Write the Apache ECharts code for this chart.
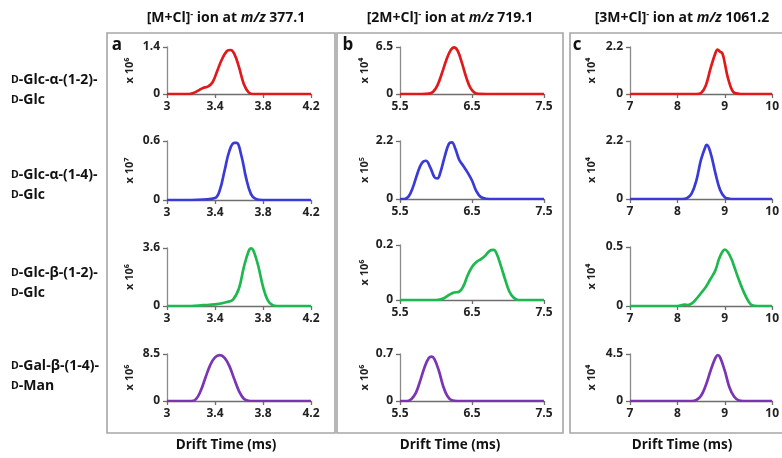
<!DOCTYPE html>
<html><head><meta charset="utf-8">
<script src="https://cdn.jsdelivr.net/npm/echarts@6/dist/echarts.min.js"></script>
<style>html,body{margin:0;padding:0;background:#fff}#c{width:782px;height:458px}</style>
</head><body><div id="c"></div>
<script>
// ---- Data (drift time ms, intensity in the panel's scaled units) ----
const ionNames = ['[M+Cl]', '[2M+Cl]', '[3M+Cl]'];
const mzValues = ['377.1', '719.1', '1061.2'];
const panelLetters = ['a', 'b', 'c'];
const rowLine1 = ['Glc-α-(1-2)-', 'Glc-α-(1-4)-', 'Glc-β-(1-2)-', 'Gal-β-(1-4)-'];
const rowLine2 = ['Glc', 'Glc', 'Glc', 'Man'];
const xTicksA = [3, 3.4, 3.8, 4.2];
const xTicksB = [5.5, 6.5, 7.5];
const xTicksC = [7, 8, 9, 10];
const yMaxA = [1.4, 0.6, 3.6, 8.5];
const yMaxB = [6.5, 2.2, 0.2, 0.7];
const yMaxC = [2.2, 2.2, 0.5, 4.5];
const expA = ['⁶', '⁷', '⁶', '⁶'];
const expB = ['⁴', '⁵', '⁶', '⁶'];
const expC = ['⁴', '⁴', '⁴', '⁴'];

const a1 = [[3,0],[3.1,0],[3.18,0],[3.22,0.03],[3.26,0.1],[3.3,0.18],[3.34,0.22],[3.38,0.35],[3.42,0.7],[3.46,1.05],[3.5,1.28],[3.53,1.31],[3.56,1.2],[3.6,0.8],[3.64,0.3],[3.68,0.05],[3.72,0],[3.8,0],[4.2,0]];
const a2 = [[3,0],[3.2,0],[3.3,0.005],[3.4,0.02],[3.44,0.1],[3.48,0.3],[3.52,0.5],[3.56,0.58],[3.58,0.58],[3.62,0.45],[3.66,0.22],[3.7,0.06],[3.74,0.01],[3.8,0],[4.2,0]];
const a3 = [[3,0],[3.2,0],[3.3,0.05],[3.4,0.1],[3.5,0.25],[3.55,0.4],[3.6,1.1],[3.64,2.4],[3.68,3.4],[3.7,3.58],[3.72,3.45],[3.76,2.5],[3.8,1.2],[3.84,0.35],[3.88,0.05],[3.92,0],[4.2,0]];
const a4 = [[3,0],[3.2,0],[3.24,0.3],[3.28,1.8],[3.32,4.2],[3.36,6.5],[3.4,7.9],[3.44,8.3],[3.48,7.8],[3.52,6.3],[3.56,4.0],[3.6,1.8],[3.64,0.4],[3.68,0.05],[3.72,0],[4.2,0]];
const b1 = [[5.5,0],[5.8,0],[5.9,0.05],[5.96,0.3],[6.02,1.2],[6.08,2.8],[6.14,4.6],[6.2,6.0],[6.25,6.45],[6.3,6.0],[6.36,4.3],[6.42,2.3],[6.48,0.8],[6.54,0.15],[6.6,0.02],[6.7,0],[7.5,0]];
const b2 = [[5.5,0],[5.56,0],[5.62,0.1],[5.68,0.45],[5.74,0.95],[5.8,1.35],[5.86,1.45],[5.92,1.2],[5.98,0.82],[6.02,0.78],[6.06,1.0],[6.12,1.6],[6.18,2.1],[6.22,2.15],[6.27,1.9],[6.32,1.5],[6.38,1.25],[6.44,1.0],[6.5,0.7],[6.56,0.3],[6.62,0.08],[6.7,0.01],[6.8,0],[7.5,0]];
const b3 = [[5.5,0],[6.0,0],[6.1,0.005],[6.18,0.018],[6.25,0.027],[6.32,0.03],[6.38,0.05],[6.44,0.09],[6.5,0.12],[6.56,0.138],[6.62,0.148],[6.68,0.16],[6.74,0.178],[6.8,0.182],[6.84,0.17],[6.9,0.125],[6.96,0.075],[7.02,0.03],[7.08,0.008],[7.14,0],[7.5,0]];
const b4 = [[5.5,0],[5.6,0],[5.66,0.03],[5.72,0.12],[5.78,0.3],[5.84,0.5],[5.9,0.64],[5.94,0.66],[5.98,0.62],[6.04,0.45],[6.1,0.22],[6.16,0.07],[6.22,0.01],[6.3,0],[7.5,0]];
const c1 = [[7,0],[8.4,0],[8.5,0.05],[8.6,0.4],[8.7,1.2],[8.8,1.9],[8.85,2.08],[8.9,1.98],[8.95,1.9],[9.0,1.45],[9.05,0.9],[9.1,0.5],[9.15,0.2],[9.2,0.06],[9.3,0.01],[9.4,0],[10,0]];
const c2 = [[7,0],[8.1,0],[8.2,0.03],[8.3,0.2],[8.4,0.7],[8.5,1.5],[8.6,2.02],[8.62,2.05],[8.7,1.75],[8.8,1.0],[8.9,0.35],[9.0,0.07],[9.1,0.01],[9.2,0],[10,0]];
const c3 = [[7,0],[8.0,0],[8.1,0.008],[8.16,0.012],[8.22,0.008],[8.3,0.02],[8.4,0.06],[8.5,0.11],[8.6,0.16],[8.7,0.23],[8.8,0.3],[8.88,0.4],[8.95,0.46],[9.0,0.477],[9.06,0.46],[9.14,0.4],[9.22,0.31],[9.3,0.22],[9.4,0.12],[9.5,0.04],[9.58,0.005],[9.7,0],[10,0]];
const c4 = [[7,0],[8.3,0],[8.4,0.1],[8.5,0.5],[8.6,1.5],[8.7,2.9],[8.8,4.1],[8.85,4.4],[8.9,4.2],[9.0,2.9],[9.1,1.3],[9.2,0.4],[9.3,0.05],[9.4,0],[10,0]];

// ---- Layout / style ----
const FONT = '"Open Sans", "Liberation Sans", sans-serif';
const rowColors = ['#e0191b', '#3a3ad8', '#1fb84f', '#7b35b4'];
const cols = [
  {data:[a1,a2,a3,a4], ticks:xTicksA, ymax:yMaxA, exp:expA, left:167, width:144, gap:32},
  {data:[b1,b2,b3,b4], ticks:xTicksB, ymax:yMaxB, exp:expB, left:400, width:144, gap:30},
  {data:[c1,c2,c3,c4], ticks:xTicksC, ymax:yMaxC, exp:expC, left:630, width:145, gap:33}
];
const rowBox = [
  [[47,47],[141,59],[248,58],[354,47]],
  [[47,47],[141,58],[245,55],[354,47]],
  [[47,47],[141,58],[247,59],[354,47]]
];
const colCenters = [226, 450, 682];

const grids = [], xAxes = [], yAxes = [], series = [];
cols.forEach((col, ci) => {
  col.data.forEach((d, ri) => {
    const idx = grids.length;
    const [top, h] = rowBox[ci][ri];
    grids.push({left: col.left, top: top, width: col.width, height: h});
    const ticks = col.ticks;
    xAxes.push({
      type:'value', gridIndex: idx, min: ticks[0], max: ticks[ticks.length-1],
      axisLine:{show:true, lineStyle:{color:'#6e6e6e', width:1.3}},
      axisTick:{show:true, customValues: ticks, length:4, lineStyle:{color:'#6e6e6e', width:1.3}},
      axisLabel:{customValues: ticks, color:'#222', fontFamily:FONT, fontWeight:'bold', fontSize:12, margin:7},
      splitLine:{show:false}
    });
    const ym = col.ymax[ri];
    yAxes.push({
      type:'value', gridIndex: idx, min:0, max: ym,
      name: 'x 10' + col.exp[ri], nameLocation:'middle', nameRotate:90, nameGap: col.gap,
      nameTextStyle:{color:'#222', fontFamily:FONT, fontWeight:'bold', fontSize:11},
      axisLine:{show:true, lineStyle:{color:'#8a8a8a', width:1.3}},
      axisTick:{show:true, customValues:[0, ym], length:4, lineStyle:{color:'#6e6e6e', width:1.3}},
      axisLabel:{customValues:[0, ym], color:'#222', fontFamily:FONT, fontWeight:'bold', fontSize:12, margin:7},
      splitLine:{show:false}
    });
    series.push({
      type:'line', xAxisIndex: idx, yAxisIndex: idx, data: d, showSymbol:false, smooth:0.4,
      lineStyle:{color: rowColors[ri], width:2.7}, itemStyle:{color: rowColors[ri]}, silent:true, z:3
    });
  });
});

const graphics = [];
// panel boxes
[[107,33,228,400],[337,33,226,400],[570,33,230,400]].forEach(b => {
  graphics.push({type:'rect', shape:{x:b[0], y:b[1], width:b[2], height:b[3]}, style:{fill:'none', stroke:'#a6a6a6', lineWidth:1.6}, z:0});
});
// column titles
const richTitle = {
  n:{fontFamily:FONT, fontWeight:'bold', fontSize:14, fill:'#111'},
  s:{fontFamily:FONT, fontWeight:'bold', fontSize:9, fill:'#111', verticalAlign:'top', padding:[0,0,8,0]},
  i:{fontFamily:FONT, fontWeight:'bold', fontStyle:'italic', fontSize:14, fill:'#111'}
};
ionNames.forEach((n, i) => {
  graphics.push({type:'text', x: colCenters[i], y: 18, style:{
    text: '{n|' + n + '}{s|-}{n| ion at }{i|m/z}{n| ' + mzValues[i] + '}',
    rich: richTitle, align:'center', verticalAlign:'middle'}});
  graphics.push({type:'text', x: colCenters[i], y: 445, style:{
    text:'Drift Time (ms)', fontFamily:FONT, fontWeight:'bold', fontSize:13.5, fill:'#111', align:'center', verticalAlign:'middle'}});
});
[117, 348, 577].forEach((x, i) => {
  graphics.push({type:'text', x: x, y: 45, style:{text: panelLetters[i], fontFamily:FONT, fontWeight:'bold', fontSize:17, fill:'#111', align:'center', verticalAlign:'middle'}});
});
// row labels
const richRow = {
  d:{fontFamily:FONT, fontWeight:'bold', fontSize:10.5, fill:'#111'},
  t:{fontFamily:FONT, fontWeight:'bold', fontSize:14, fill:'#111'}
};
const rowLabelY = [80, 175, 273, 366];
rowLine1.forEach((l, i) => {
  graphics.push({type:'text', x: 11, y: rowLabelY[i], style:{text:'{d|D}{t|-' + l + '}', rich: richRow, align:'left', verticalAlign:'middle'}});
  graphics.push({type:'text', x: 11, y: rowLabelY[i] + 20, style:{text:'{d|D}{t|-' + rowLine2[i] + '}', rich: richRow, align:'left', verticalAlign:'middle'}});
});

const chart = echarts.init(document.getElementById('c'), null, {renderer:'canvas'});
chart.setOption({
  animation:false, backgroundColor:'#fff',
  grid: grids, xAxis: xAxes, yAxis: yAxes, series: series, graphic: graphics
});
</script></body></html>
